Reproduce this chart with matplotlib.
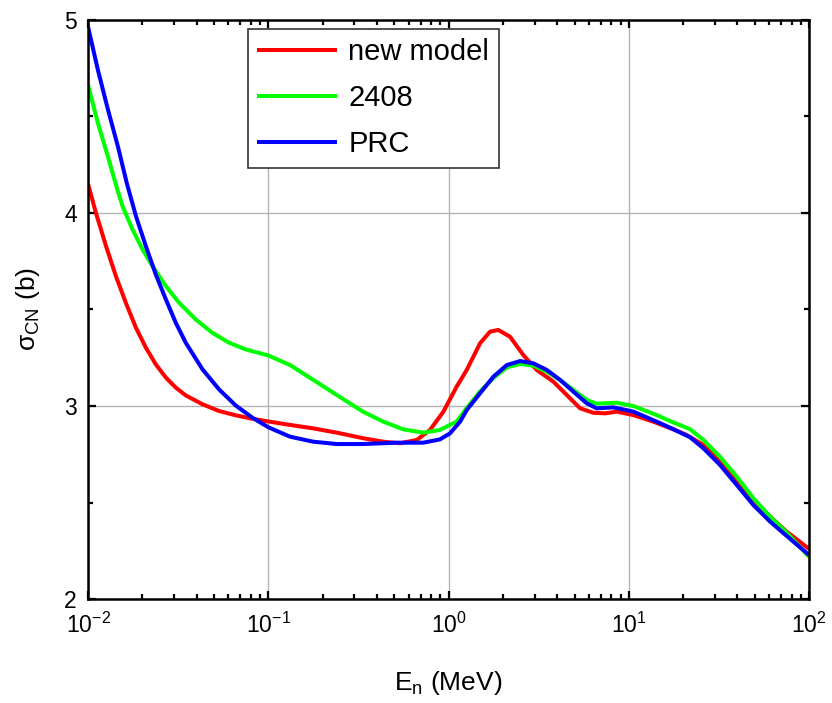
import numpy as np
import matplotlib
matplotlib.use("Agg")
import matplotlib.pyplot as plt
from matplotlib.ticker import LogLocator, MultipleLocator, NullFormatter

plt.rcParams['font.family'] = ['Liberation Sans', 'DejaVu Sans']
plt.rcParams['mathtext.fontset'] = 'custom'
plt.rcParams['mathtext.rm'] = 'Liberation Sans'
plt.rcParams['mathtext.it'] = 'Liberation Sans:italic'
plt.rcParams['mathtext.bf'] = 'Liberation Sans:bold'

# data: log10(E/MeV) and sigma_CN (b)
red_logE = [-2.0, -1.956, -1.900, -1.845, -1.790, -1.734, -1.679, -1.624, -1.568, -1.513, -1.458,
            -1.365, -1.273, -1.181, -1.089, -1.0, -0.879, -0.750, -0.620, -0.473, -0.362, -0.269,
            -0.176, -0.103, -0.029, 0.045, 0.101, 0.175, 0.230, 0.276, 0.341, 0.415, 0.489, 0.582,
            0.656, 0.730, 0.803, 0.870, 0.933, 1.025, 1.136, 1.247, 1.321, 1.414, 1.506, 1.599,
            1.691, 1.784, 1.876, 2.0]
red_sig = [4.15, 4.0, 3.828, 3.672, 3.534, 3.405, 3.302, 3.216, 3.147, 3.095, 3.055,
           3.009, 2.974, 2.952, 2.934, 2.92, 2.902, 2.884, 2.862, 2.833, 2.815, 2.807,
           2.824, 2.876, 2.97, 3.10, 3.187, 3.325, 3.385, 3.394, 3.359, 3.264, 3.187, 3.126,
           3.057, 2.988, 2.965, 2.962, 2.971, 2.953, 2.919, 2.879, 2.85, 2.798, 2.72, 2.617,
           2.513, 2.427, 2.349, 2.26]

green_logE = [-2.0, -1.945, -1.889, -1.84, -1.808, -1.753, -1.697, -1.642, -1.568, -1.494, -1.402,
              -1.310, -1.218, -1.125, -1.0, -0.879, -0.750, -0.620, -0.473, -0.362, -0.251, -0.140,
              -0.048, 0.045, 0.101, 0.175, 0.249, 0.323, 0.397, 0.471, 0.545, 0.619, 0.693, 0.767,
              0.822, 0.933, 1.025, 1.155, 1.247, 1.340, 1.414, 1.506, 1.599, 1.691, 1.784, 1.876, 2.0]
green_sig = [4.663, 4.465, 4.29, 4.13, 4.034, 3.914, 3.810, 3.724, 3.621, 3.534, 3.448,
             3.379, 3.328, 3.293, 3.262, 3.212, 3.135, 3.057, 2.97, 2.919, 2.879, 2.862,
             2.876, 2.919, 2.99, 3.075, 3.145, 3.200, 3.218, 3.209, 3.178, 3.135, 3.083, 3.031,
             3.012, 3.017, 3.0, 2.953, 2.915, 2.88, 2.824, 2.737, 2.634, 2.522, 2.427, 2.344, 2.219]

blue_logE = [-2.0, -1.945, -1.889, -1.834, -1.785, -1.734, -1.679, -1.624, -1.568, -1.513, -1.458,
             -1.365, -1.273, -1.181, -1.089, -1.0, -0.879, -0.750, -0.620, -0.473, -0.288, -0.140,
             -0.048, 0.008, 0.064, 0.101, 0.175, 0.249, 0.323, 0.397, 0.471, 0.545, 0.619, 0.693,
             0.767, 0.822, 0.914, 1.025, 1.155, 1.247, 1.340, 1.414, 1.506, 1.599, 1.691, 1.784,
             1.876, 2.0]
blue_sig = [4.965, 4.74, 4.534, 4.344, 4.155, 3.983, 3.828, 3.681, 3.552, 3.431, 3.328,
            3.19, 3.086, 3.003, 2.94, 2.89, 2.841, 2.815, 2.803, 2.803, 2.81, 2.81,
            2.827, 2.858, 2.919, 2.979, 3.066, 3.152, 3.212, 3.233, 3.221, 3.187, 3.135, 3.074,
            3.014, 2.988, 2.993, 2.971, 2.919, 2.88, 2.838, 2.781, 2.695, 2.591, 2.487, 2.401,
            2.327, 2.228]

labels = ['new model', '2408', 'PRC']
colors = ['#ff0000', '#00ff00', '#0000ff']

fig = plt.figure(figsize=(8.32, 7.03), dpi=100)
ax = fig.add_axes([0.1058, 0.1479, 0.8666, 0.8237])

series = [(red_logE, red_sig), (green_logE, green_sig), (blue_logE, blue_sig)]
for (lx, sy), lab, c in zip(series, labels, colors):
    ax.plot(10 ** np.array(lx), sy, color=c, lw=2.9, label=lab,
            solid_capstyle='butt', solid_joinstyle='round')

ax.set_xscale('log')
ax.set_xlim(1e-2, 1e2)
ax.set_ylim(2, 5)
ax.xaxis.set_major_locator(LogLocator(base=10, numticks=10))
ax.xaxis.set_minor_locator(LogLocator(base=10, subs=np.arange(2, 10), numticks=20))
ax.xaxis.set_minor_formatter(NullFormatter())
ax.yaxis.set_major_locator(MultipleLocator(1))
ax.yaxis.set_minor_locator(MultipleLocator(0.5))

ax.grid(True, which='major', color='#b4b4b4', lw=1.0)
ax.set_axisbelow(True)
ax.tick_params(which='both', direction='in', top=True, right=True, width=1.6, labelsize=16.5)
ax.tick_params(which='major', length=6)
ax.tick_params(which='minor', length=3.6)
ax.tick_params(axis='x', which='major', pad=10)
ax.tick_params(axis='y', which='major', pad=8)
for s in ax.spines.values():
    s.set_linewidth(1.8)

ax.set_xlabel('E$_{\\mathrm{n}}$ (MeV)', fontsize=19, labelpad=22)
ax.set_ylabel('σ$_{\\mathrm{CN}}$ (b)', fontsize=19, labelpad=16)

leg = ax.legend(loc='upper left', bbox_to_anchor=(248 / 832, 1 - 29 / 703),
                bbox_transform=fig.transFigure, fontsize=21, frameon=True, fancybox=False,
                edgecolor='#333333', framealpha=1, handlelength=2.74, labelspacing=0.62,
                handletextpad=0.38, borderpad=0.32, borderaxespad=0)
leg.get_frame().set_linewidth(1.2)

fig.savefig('out.png', dpi=100)
